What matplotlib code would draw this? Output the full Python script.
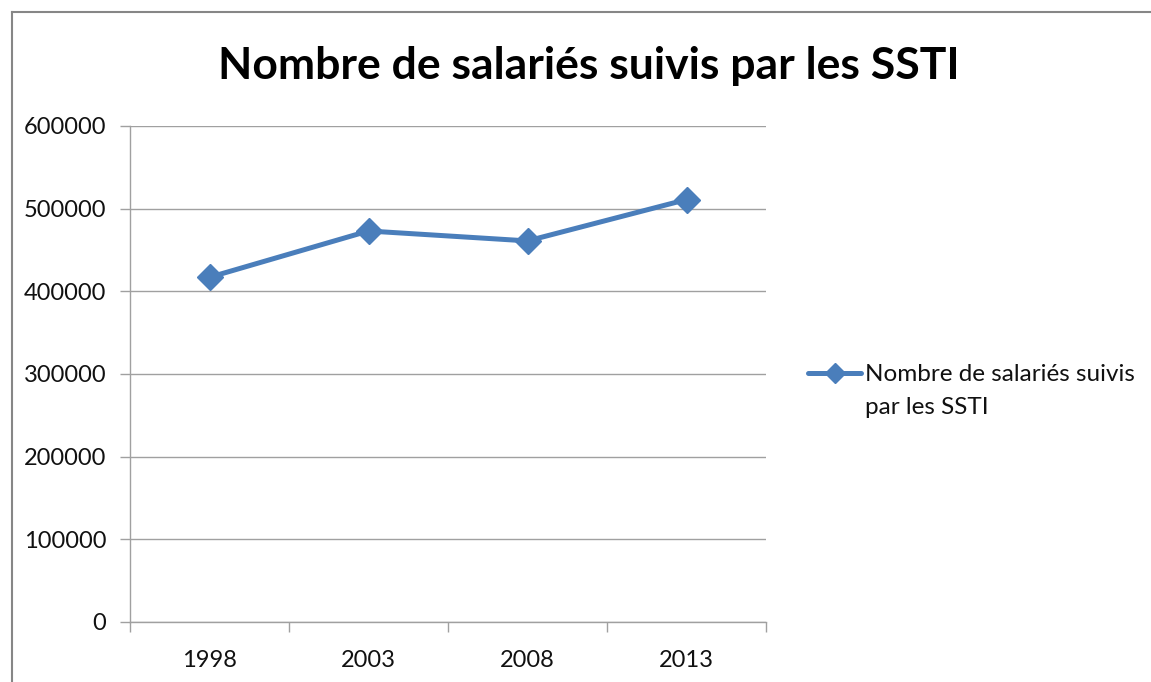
import numpy as np
import matplotlib.pyplot as plt
from matplotlib.lines import Line2D

plt.rcParams['font.family'] = ['Lato', 'DejaVu Sans']

# data
years = ['1998', '2003', '2008', '2013']
salaries = [417000, 473000, 461000, 511000]
serie = 'Nombre de salariés suivis\npar les SSTI'
titre = 'Nombre de salariés suivis par les SSTI'

W, H = 1151, 682
fig = plt.figure(figsize=(W / 100, H / 100), dpi=100)
ax = fig.add_axes([130 / W, 1 - 622 / H, 636 / W, 496 / H])

x = np.arange(len(years))
bleu = '#4A7EBB'
ax.plot(x, salaries, color=bleu, lw=3.6, marker='D', ms=13, label=serie,
        solid_capstyle='round', zorder=3)

ax.set_xlim(-0.5, len(years) - 0.5)
ax.set_ylim(0, 600000)
ax.set_yticks(np.arange(0, 600001, 100000))
ax.set_yticklabels([str(v) for v in range(0, 600001, 100000)])

# category boundaries as ticks, labels at the centres
ax.set_xticks(np.arange(-0.5, len(years), 1.0))
ax.set_xticklabels([])
ax.set_xticks(x, minor=True)
ax.set_xticklabels(years, minor=True)
ax.tick_params(axis='x', which='major', length=7, color='#A0A0A0', width=1)
ax.tick_params(axis='x', which='minor', length=0, pad=20, labelsize=17, labelcolor='#111111')
ax.tick_params(axis='y', length=7, color='#A0A0A0', width=1, pad=10,
               labelsize=17, labelcolor='#111111')

ax.grid(axis='y', color='#A0A0A0', lw=1)
ax.set_axisbelow(True)
for s in ['top', 'right']:
    ax.spines[s].set_visible(False)
for s in ['left', 'bottom']:
    ax.spines[s].set_color('#A0A0A0')
    ax.spines[s].set_linewidth(1)

fig.text(589 / W, 1 - 66 / H, titre, ha='center', va='center',
         fontsize=32, fontweight='bold', color='black')

leg = ax.legend(loc='upper left', bbox_to_anchor=(808 / W, 1 - 364 / H),
                bbox_transform=fig.transFigure, frameon=False, fontsize=17.5,
                handlelength=2.2, handletextpad=0.15, borderpad=0,
                borderaxespad=0, markerscale=0.75)
for t in leg.get_texts():
    t.set_color('#111111')
    t.set_linespacing(1.7)
# put the handle next to the first line of the label
for col in leg._legend_handle_box.get_children():
    for row in col.get_children():
        row.align = 'top'

# chart area frame
fig.add_artist(Line2D([12 / W, 12 / W], [0, 1 - 12 / H], color='#868686', lw=1.5))
fig.add_artist(Line2D([12 / W, 1], [1 - 12 / H, 1 - 12 / H], color='#868686', lw=1.5))

fig.savefig('out.png', dpi=100)
